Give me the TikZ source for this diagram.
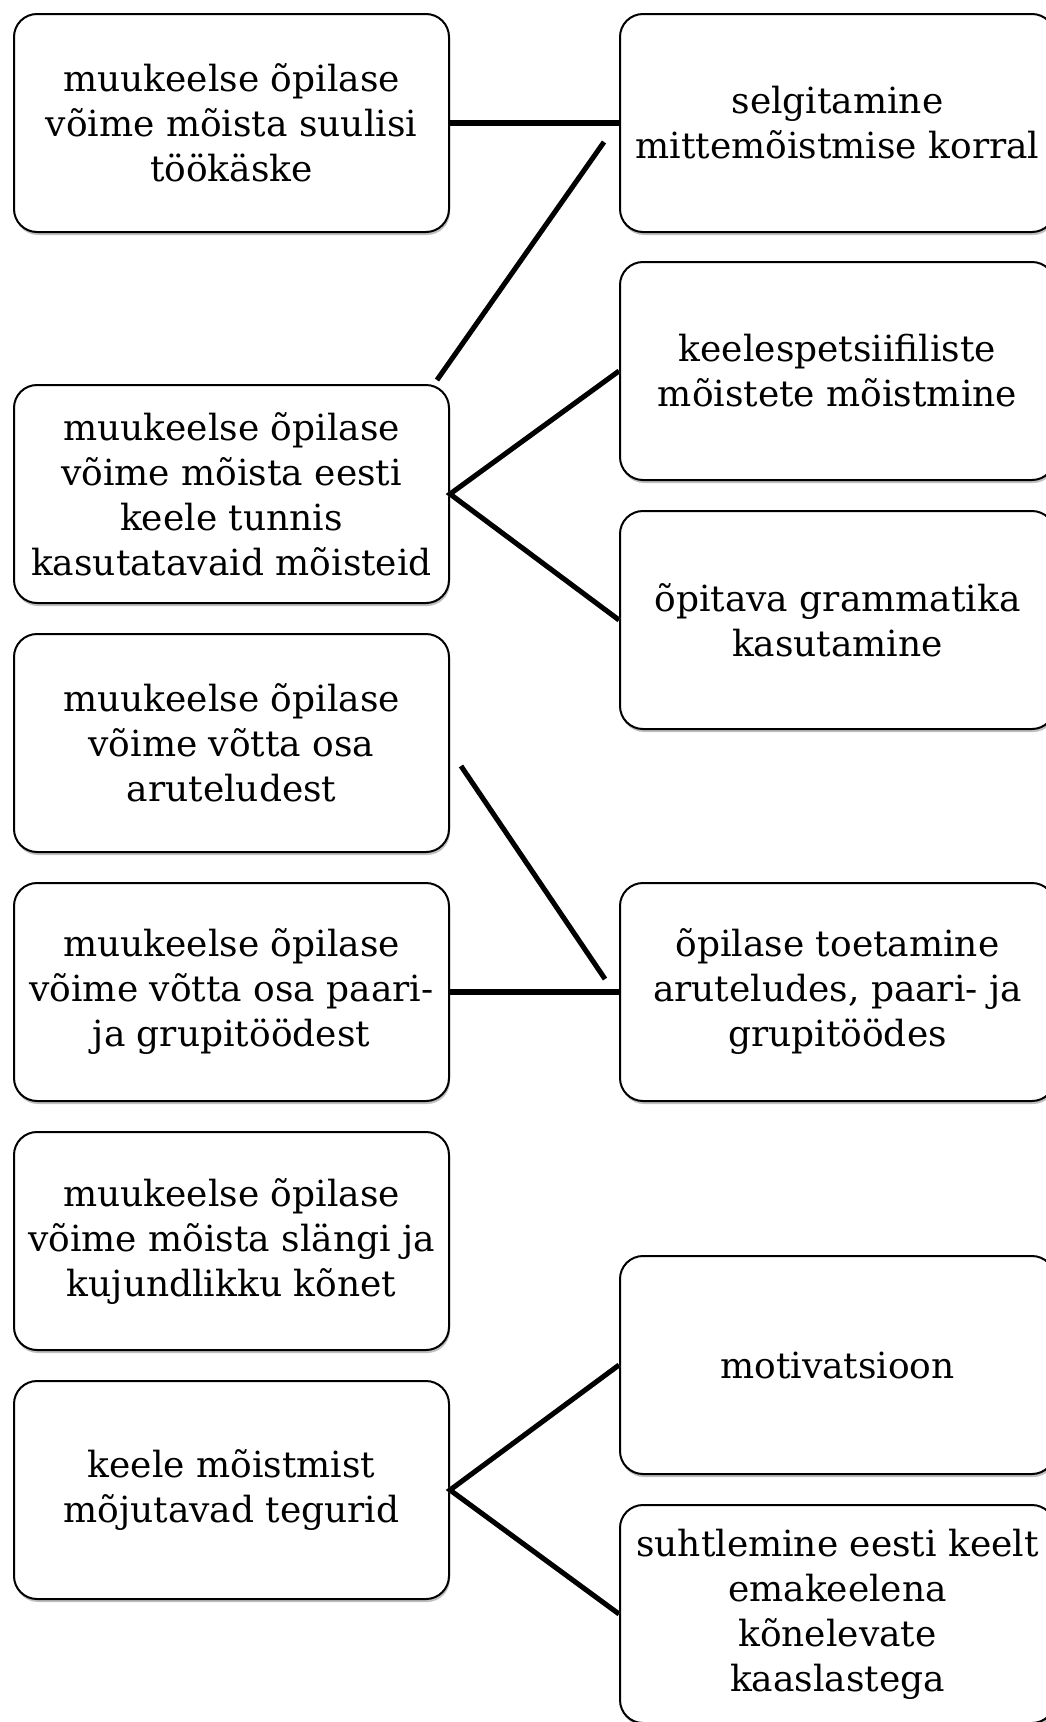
\documentclass[tikz,border=0pt]{standalone}
\usepackage{fontspec}
\setmainfont{DejaVu Serif}
\usetikzlibrary{shadows}
\begin{document}
\begin{tikzpicture}[x=1pt,y=-1pt,
  box/.style={draw=black, line width=2pt, rounded corners=23pt, fill=white,
    minimum width=435pt, minimum height=218pt, anchor=north west, align=center,
    inner sep=0pt, font=\fontsize{36}{45}\selectfont,
    drop shadow={shadow xshift=1pt, shadow yshift=-3pt, opacity=0.25, fill=black}},
  thick link/.style={line width=6pt},
  link/.style={line width=5pt},
]
\useasboundingbox (0,0) rectangle (1045,1722);
% left column
\node[box] (L1) at (13,13)   {muukeelse õpilase\\võime mõista suulisi\\töökäske};
\node[box] (L2) at (13,384)  {muukeelse õpilase\\võime mõista eesti\\keele tunnis\\kasutatavaid mõisteid};
\node[box] (L3) at (13,633)  {muukeelse õpilase\\võime võtta osa\\aruteludest};
\node[box] (L4) at (13,882)  {muukeelse õpilase\\võime võtta osa paari-\\ja grupitöödest};
\node[box] (L5) at (13,1131) {muukeelse õpilase\\võime mõista slängi ja\\kujundlikku kõnet};
\node[box] (L6) at (13,1380) {keele mõistmist\\mõjutavad tegurid};
% right column
\node[box] (R1) at (619,13)   {selgitamine\\mittemõistmise korral};
\node[box] (R2) at (619,261)  {keelespetsiifiliste\\mõistete mõistmine};
\node[box] (R3) at (619,510)  {õpitava grammatika\\kasutamine};
\node[box] (R4) at (619,882)  {õpilase toetamine\\aruteludes, paari- ja\\grupitöödes};
\node[box] (R5) at (619,1255) {motivatsioon};
\node[box] (R6) at (619,1504) {suhtlemine eesti keelt\\emakeelena\\kõnelevate\\kaaslastega};
% free line ends
\coordinate (d1a) at (437,380);
\coordinate (d1b) at (604,142);
\coordinate (d2a) at (461,766);
\coordinate (d2b) at (605,979);
% connectors
\begin{scope}[draw=black!25, xshift=1pt, yshift=3pt]
  \draw[thick link] (L1.east) -- (R1.west);
  \draw[link] (d1a) -- (d1b);
  \draw[link] (R2.west) -- (L2.east) -- (R3.west);
  \draw[link] (d2a) -- (d2b);
  \draw[thick link] (L4.east) -- (R4.west);
  \draw[link] (R5.west) -- (L6.east) -- (R6.west);
\end{scope}
\draw[thick link] (L1.east) -- (R1.west);
\draw[link] (d1a) -- (d1b);
\draw[link] (R2.west) -- (L2.east) -- (R3.west);
\draw[link] (d2a) -- (d2b);
\draw[thick link] (L4.east) -- (R4.west);
\draw[link] (R5.west) -- (L6.east) -- (R6.west);
\end{tikzpicture}
\end{document}
